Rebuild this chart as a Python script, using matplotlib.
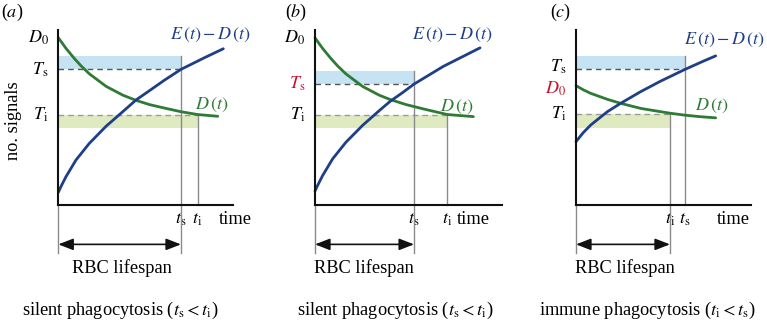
import matplotlib
matplotlib.use('Agg')
import matplotlib.pyplot as plt

plt.rcParams['font.family'] = ['Liberation Serif', 'DejaVu Serif']
plt.rcParams['mathtext.fontset'] = 'stix'

# curve samples (time, no. signals), one set per panel
time_a = [0, 0.15, 0.44, 1.01, 1.77, 2.73, 3.68, 4.44, 5.39, 6.06, 7.01, 8.38, 9.43]
e_minus_d_a = [0.72, 1.05, 1.62, 2.57, 3.52, 4.50, 5.33, 6.00, 6.66, 7.13, 7.75, 8.43, 8.93]
time_da = [0, 0.44, 0.91, 1.30, 1.77, 2.73, 3.68, 4.44, 5.20, 6.15, 7.01, 7.96, 9.11]
d_a = [9.56, 8.95, 8.38, 7.95, 7.50, 6.78, 6.28, 5.98, 5.74, 5.52, 5.33, 5.17, 5.07]

time_b = [0, 0.15, 0.44, 1.01, 1.77, 2.73, 3.68, 4.29, 5.00, 5.66, 7.33, 9.43]
e_minus_d_b = [0.80, 1.12, 1.69, 2.64, 3.59, 4.56, 5.40, 5.92, 6.42, 6.91, 7.92, 8.98]
time_db = [0, 0.44, 0.91, 1.30, 1.77, 2.73, 3.68, 4.29, 5.20, 6.15, 7.56, 9.05]
d_b = [9.55, 8.94, 8.37, 7.94, 7.49, 6.77, 6.27, 6.03, 5.74, 5.50, 5.17, 5.05]

time_c = [0, 0.40, 0.84, 1.79, 2.55, 3.70, 4.84, 6.23, 7.28, 7.98]
e_minus_d_c = [3.62, 4.12, 4.57, 5.33, 5.81, 6.48, 7.08, 7.75, 8.22, 8.52]
time_dc = [0, 0.42, 0.84, 1.79, 2.55, 3.70, 4.84, 5.41, 6.17, 7.05, 7.98]
d_c = [6.82, 6.58, 6.38, 6.04, 5.81, 5.52, 5.33, 5.24, 5.14, 5.05, 4.98]

# thresholds and times per panel
D0 = [9.56, 9.55, 6.82]
Ts = [7.75, 6.91, 7.75]
Ts_top = [8.51, 7.66, 8.51]
Ti = [5.17, 5.17, 5.20]
Ti_bottom = [4.38, 4.38, 4.38]
ts = [7.01, 5.66, 6.23]
ti = [7.96, 7.56, 5.37]
xmax = [10.0, 10.67, 10.0]

letters = ['a', 'b', 'c']
captions = [r'silent phagocytosis ($t_\mathrm{s} < t_\mathrm{i}$)',
            r'silent phagocytosis ($t_\mathrm{s} < t_\mathrm{i}$)',
            r'immune phagocytosis ($t_\mathrm{i} < t_\mathrm{s}$)']

curves = [(time_a, e_minus_d_a, time_da, d_a),
          (time_b, e_minus_d_b, time_db, d_b),
          (time_c, e_minus_d_c, time_dc, d_c)]

blue = '#1e3f86'
green = '#2f7a35'
red = '#c8102e'
fs = 13.2
mfs = 13

W, H = 767, 322
unit = 17.5
origins = [(58.3, 205), (315, 205), (576, 205)]

fig = plt.figure(figsize=(W / 100, H / 100), dpi=100)

for k in range(3):
    x0, y0 = origins[k]
    ax = fig.add_axes([x0 / W, (H - y0) / H, xmax[k] * unit / W, 10 * unit / H])
    ax.set_xlim(0, xmax[k])
    ax.set_ylim(0, 10)
    ax.patch.set_visible(False)
    for side in ['top', 'right']:
        ax.spines[side].set_visible(False)
    for side in ['left', 'bottom']:
        ax.spines[side].set_linewidth(1.5)
        ax.spines[side].set_color('#111111')

    life = min(ts[k], ti[k])

    # bands
    ax.fill_between([0, ts[k]], Ts[k], Ts_top[k], color='#c5e3f3', lw=0)
    ax.fill_between([0, ti[k]], Ti_bottom[k], Ti[k], color='#dfeac0', lw=0)
    ax.plot([0, ts[k]], [Ts[k], Ts[k]], ls=(0, (4, 3)), color='#555555', lw=1)
    ax.plot([0, ti[k]], [Ti[k], Ti[k]], ls=(0, (4, 3)), color='#9a9a9a', lw=1)

    # vertical markers
    ts_low = -2.74 if ts[k] == life else 0
    ti_low = -2.74 if ti[k] == life else 0
    ax.plot([ts[k], ts[k]], [Ts_top[k], ts_low], color='#8a8a8a', lw=1, clip_on=False)
    ax.plot([ti[k], ti[k]], [Ti[k], ti_low], color='#8a8a8a', lw=1, clip_on=False)
    ax.plot([0, 0], [0, -2.74], color='#8a8a8a', lw=1, clip_on=False)

    # curves
    te, e, td, d = curves[k]
    ax.plot(td, d, color=green, lw=2, solid_capstyle='round', solid_joinstyle='round',
            clip_on=False)
    ax.plot(te, e, color=blue, lw=2, solid_capstyle='round', solid_joinstyle='round',
            clip_on=False)

    # y labels (placed by hand so the close ones in panel c do not collide)
    ax.set_yticks([])
    ylabs = [(D0[k], r'$D_0$', red if k == 2 else 'black', -2 if k == 2 else 0),
             (Ts[k], r'$T_\mathrm{s}$', red if k == 1 else 'black', 2 if k == 2 else 0),
             (Ti[k], r'$T_\mathrm{i}$', 'black', 0)]
    for val, txt, col, dy in ylabs:
        ax.annotate(txt, xy=(0, val), xytext=(-7, dy), textcoords='offset points',
                    ha='right', va='center', fontsize=mfs, color=col,
                    annotation_clip=False)

    ax.set_xticks([ts[k], ti[k]])
    ax.set_xticklabels([r'$t_\mathrm{s}$', r'$t_\mathrm{i}$'], fontsize=mfs)
    ax.tick_params(axis='x', length=0, pad=4)

    time_x = [9.18, 8.1, 8.06][k]
    ax.text(time_x, -0.85, 'time', fontsize=fs, ha='left', va='center')

    lab_e = [(6.38, 9.71), (5.54, 9.71), (6.2, 9.43)][k]
    ax.text(lab_e[0], lab_e[1], r'$E\,(t) - D\,(t)$', color=blue, fontsize=mfs,
            ha='left', va='center', clip_on=False)
    lab_d = [(7.81, 5.71), (7.14, 5.6), (6.8, 5.66)][k]
    ax.text(lab_d[0], lab_d[1], r'$D\,(t)$', color=green, fontsize=mfs,
            ha='left', va='center')

    # lifespan arrow
    ax.annotate('', xy=(0, -2.25), xytext=(life, -2.25), annotation_clip=False,
                arrowprops=dict(arrowstyle='<|-|>,head_length=0.9,head_width=0.35',
                                color='#111111', lw=1.2, shrinkA=0, shrinkB=0))
    rbc_x = [3.64, 2.8, 2.8][k]
    ax.text(rbc_x, -3.6, 'RBC lifespan', fontsize=fs, ha='center', va='center')

    cap_x = [3.56, 4.57, 4.1][k]
    ax.text(cap_x, -6.0, captions[k], fontsize=fs, ha='center', va='center')

    # panel letter
    letter_x = [-3.3, -1.7, -1.5][k]
    ax.text(letter_x, 11.0, '(' + r'$\mathit{' + letters[k] + '}$' + ')',
            fontsize=mfs, ha='left', va='center')

    if k == 0:
        ax.text(-2.55, 4.8, 'no. signals', fontsize=fs, rotation=90,
                ha='center', va='center')

fig.savefig('out.png', dpi=100)
